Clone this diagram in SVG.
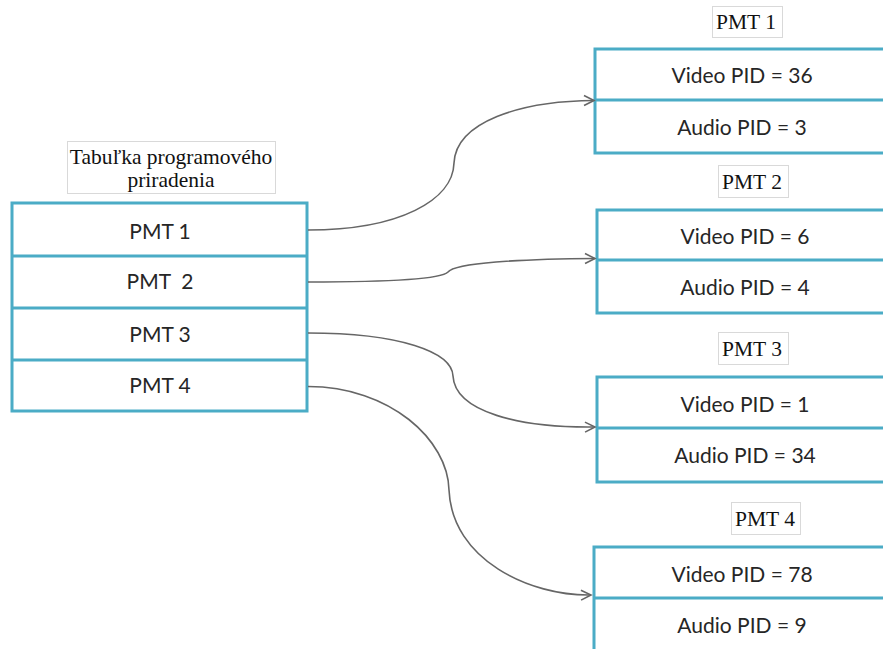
<svg xmlns="http://www.w3.org/2000/svg" width="883" height="649" viewBox="0 0 883 649">
<style>
.box{fill:#fff;stroke:#4BACC6;stroke-width:3}
.div{stroke:#4BACC6;stroke-width:3}
.lbl{fill:#fff;stroke:#d9d9d9;stroke-width:1}
.t{font-family:Lato,"Open Sans",sans-serif;font-size:21px;fill:#262626;text-anchor:middle}
.s{font-family:"Liberation Serif",serif;font-size:21.5px;fill:#111;text-anchor:middle}
.c{fill:none;stroke:#666;stroke-width:1.6;marker-end:url(#arr)}
</style>
<defs>
<marker id="arr" markerWidth="14" markerHeight="14" refX="12" refY="7" orient="auto" markerUnits="userSpaceOnUse">
<path d="M2,2 L12,7 L2,12" fill="none" stroke="#666" stroke-width="1.6"/>
</marker>
</defs>
<rect width="883" height="649" fill="#fff"/>
<g id="pat">
<rect class="lbl" x="67.5" y="141.5" width="208" height="52"/>
<text class="s" x="171" y="164">Tabuľka programového</text>
<text class="s" x="171" y="187">priradenia</text>
<rect class="box" x="12" y="203" width="295" height="208"/>
<line class="div" x1="12" y1="256" x2="307" y2="256"/>
<line class="div" x1="12" y1="308" x2="307" y2="308"/>
<line class="div" x1="12" y1="360" x2="307" y2="360"/>
<text class="t" x="160" y="239">PMT 1</text>
<text class="t" x="160" y="289" xml:space="preserve">PMT  2</text>
<text class="t" x="160" y="342">PMT 3</text>
<text class="t" x="160" y="393">PMT 4</text>
</g>
<g id="pmt1">
<rect class="lbl" x="712.5" y="6.5" width="70" height="31"/>
<text class="s" x="746" y="29">PMT 1</text>
<rect class="box" x="595" y="49" width="300" height="104"/>
<line class="div" x1="595" y1="100" x2="895" y2="100"/>
<text class="t" x="742" y="83">Video PID = 36</text>
<text class="t" x="742" y="135">Audio PID = 3</text>
</g>
<g id="pmt2">
<rect class="lbl" x="718.5" y="165.5" width="70" height="32"/>
<text class="s" x="752" y="189">PMT 2</text>
<rect class="box" x="597" y="210" width="300" height="103"/>
<line class="div" x1="597" y1="260" x2="897" y2="260"/>
<text class="t" x="745" y="244">Video PID = 6</text>
<text class="t" x="745" y="295">Audio PID = 4</text>
</g>
<g id="pmt3">
<rect class="lbl" x="718.5" y="332.5" width="70" height="32"/>
<text class="s" x="752" y="356">PMT 3</text>
<rect class="box" x="597" y="377" width="300" height="105"/>
<line class="div" x1="597" y1="428" x2="897" y2="428"/>
<text class="t" x="745" y="412">Video PID = 1</text>
<text class="t" x="745" y="463">Audio PID = 34</text>
</g>
<g id="pmt4">
<rect class="lbl" x="731.5" y="502.5" width="69" height="32"/>
<text class="s" x="765" y="526">PMT 4</text>
<rect class="box" x="594" y="547" width="300" height="120"/>
<line class="div" x1="594" y1="598" x2="894" y2="598"/>
<text class="t" x="742" y="582">Video PID = 78</text>
<text class="t" x="742" y="633">Audio PID = 9</text>
</g>
<g id="connectors">
<path class="c" d="M308,230 C400,230 453,200 454,163 C456,122 520,101 594,100.5"/>
<path class="c" d="M308,282 C380,282 440,280 448,272 C455,263 520,259 595,258.5"/>
<path class="c" d="M308,333 C400,333 452,352 453,376 C455,412 520,428 595,427"/>
<path class="c" d="M308,386.5 C390,386.5 448,440 449,490 C452,560 530,596 591,595"/>
</g>
</svg>
